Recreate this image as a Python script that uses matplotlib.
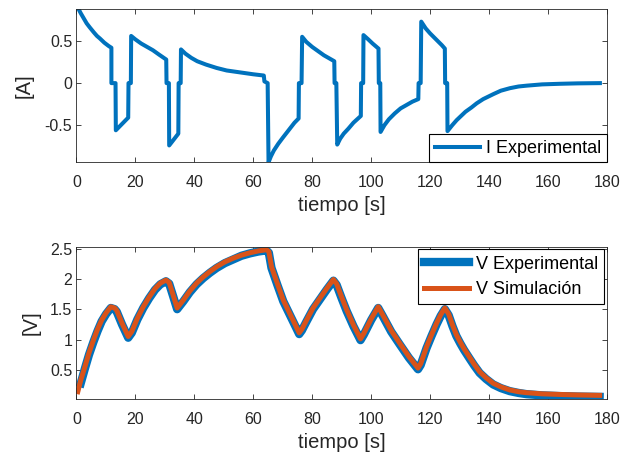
import matplotlib
matplotlib.use("Agg")
import matplotlib.pyplot as plt

plt.rcParams['font.family'] = ['Liberation Sans', 'DejaVu Sans']

# ---- data ----
t_I = [0.9, 1.5, 2.5, 3.5, 4.6, 6.0, 7.0, 8.0, 9.5, 11.0, 11.9,
       11.9, 13.3, 13.4, 17.6, 17.7, 18.5,
       18.6, 20.0, 22.0, 24.0, 26.0, 28.0, 30.5,
       30.6, 31.4, 31.5, 34.6, 34.7, 35.4,
       35.5, 37.0, 39.0, 41.0, 44.0, 47.6, 51.0, 55.0, 60.0, 63.6,
       63.8, 64.9,
       65.2, 66.0, 67.0, 68.5, 70.0, 72.0, 74.0, 75.4,
       75.5, 76.4,
       76.6, 78.0, 80.0, 82.0, 84.0, 86.0, 87.5,
       87.6, 88.2,
       88.5, 89.5, 90.7, 92.3, 94.0, 96.5,
       96.6, 97.3,
       97.4, 99.0, 100.5, 102.5,
       102.6, 103.1,
       103.2, 104.5, 106.0, 108.0, 110.0, 112.0, 114.0, 116.0,
       116.1, 116.8,
       117.0, 118.5, 120.0, 122.0, 124.0, 125.0,
       125.1, 125.8,
       125.9, 127.5, 129.0, 130.2, 132.0, 134.0, 135.8, 138.0, 141.5, 144.0,
       147.1, 150.0, 152.8, 158.0, 164.0, 170.0, 177.6]
I_exp = [0.87, 0.83, 0.77, 0.71, 0.66, 0.60, 0.56, 0.53, 0.48, 0.44, 0.42,
         0.0, 0.0, -0.56, -0.41, 0.0, 0.0,
         0.56, 0.52, 0.47, 0.43, 0.39, 0.34, 0.28,
         0.0, 0.0, -0.74, -0.60, 0.0, 0.0,
         0.40, 0.35, 0.30, 0.26, 0.22, 0.18, 0.15, 0.13, 0.105, 0.09,
         0.02, 0.0,
         -0.94, -0.87, -0.80, -0.72, -0.65, -0.56, -0.47, -0.42,
         0.0, 0.0,
         0.55, 0.49, 0.43, 0.38, 0.33, 0.29, 0.26,
         0.0, 0.0,
         -0.73, -0.66, -0.60, -0.54, -0.47, -0.39,
         0.0, 0.0,
         0.57, 0.52, 0.47, 0.41,
         0.0, 0.0,
         -0.58, -0.50, -0.43, -0.36, -0.30, -0.26, -0.22, -0.19,
         0.0, 0.0,
         0.73, 0.65, 0.59, 0.52, 0.45, 0.41,
         0.0, 0.0,
         -0.57, -0.50, -0.44, -0.40, -0.34, -0.29, -0.24, -0.19, -0.13, -0.09,
         -0.06, -0.04, -0.03, -0.015, -0.008, -0.003, 0.0]

t_V = [0.5, 1.5, 2.9, 4.3, 5.8, 7.2, 8.6, 10.1, 11.7, 13.0, 13.7, 15.5, 17.6,
       18.8, 20.7, 22.7, 24.7, 26.7, 28.5, 30.4, 31.5, 32.8, 34.2, 36.3, 38.5,
       40.8, 43.0, 45.3, 47.6, 50.4, 53.2, 56.0, 58.9, 61.7, 64.5, 65.3, 66.2,
       68.2, 70.2, 72.9, 75.6, 76.5, 78.1, 80.3, 82.6, 84.9, 87.2, 88.3, 90.0,
       91.7, 94.0, 96.4, 97.5, 100.0, 102.4, 103.9, 106.8, 109.7, 112.8, 115.9,
       116.8, 118.8, 120.5, 122.2, 123.6, 125.0, 126.3, 127.6, 128.9, 130.2,
       131.5, 133.5, 135.0, 136.8, 139.0, 141.4, 144.0, 147.0, 150.0, 152.7,
       158.0, 164.0, 170.0, 177.5]
V_sim = [0.14, 0.33, 0.55, 0.78, 0.99, 1.17, 1.32, 1.44, 1.54, 1.52, 1.48, 1.27, 1.05,
         1.13, 1.35, 1.54, 1.70, 1.84, 1.93, 1.98, 1.94, 1.74, 1.52, 1.65, 1.80,
         1.93, 2.03, 2.12, 2.20, 2.28, 2.34, 2.39, 2.43, 2.46, 2.48, 2.45, 2.20,
         1.92, 1.65, 1.38, 1.11, 1.17, 1.32, 1.52, 1.68, 1.84, 1.99, 1.92, 1.70,
         1.49, 1.24, 1.01, 1.10, 1.34, 1.54, 1.41, 1.15, 0.94, 0.72, 0.53,
         0.60, 0.88, 1.08, 1.27, 1.41, 1.52, 1.42, 1.24, 1.08, 0.96,
         0.85, 0.70, 0.59, 0.47, 0.37, 0.28, 0.22, 0.17, 0.14, 0.124,
         0.105, 0.095, 0.087, 0.08]
V_exp = [0.05, 0.28, 0.52, 0.75, 0.96, 1.14, 1.30, 1.42, 1.52, 1.50, 1.46, 1.25, 1.03,
         1.11, 1.33, 1.52, 1.68, 1.82, 1.91, 1.96, 1.92, 1.72, 1.50, 1.63, 1.78,
         1.91, 2.01, 2.10, 2.18, 2.26, 2.32, 2.38, 2.42, 2.45, 2.47, 2.43, 2.18,
         1.90, 1.63, 1.36, 1.09, 1.15, 1.30, 1.50, 1.66, 1.82, 1.97, 1.90, 1.68,
         1.47, 1.22, 0.99, 1.08, 1.32, 1.52, 1.39, 1.13, 0.92, 0.70, 0.51,
         0.58, 0.86, 1.06, 1.25, 1.39, 1.50, 1.40, 1.22, 1.06, 0.94,
         0.83, 0.68, 0.57, 0.45, 0.35, 0.26, 0.20, 0.15, 0.12, 0.10,
         0.08, 0.068, 0.06, 0.055]

blue = '#0072BD'
orange = '#D95319'
dark = '#262626'

fig = plt.figure(figsize=(6.23, 4.57), dpi=100)
ax1 = fig.add_axes([0.1225, 0.6449, 0.8518, 0.3354])
ax2 = fig.add_axes([0.1225, 0.1269, 0.8518, 0.3333])

ax1.plot(t_I, I_exp, color=blue, lw=2.9, label='I Experimental')
ax1.set_ylim(-0.94, 0.88)
ax1.set_yticks([-0.5, 0, 0.5])
ax1.set_yticklabels(['-0.5', '0', '0.5'])
ax1.set_ylabel('[A]', labelpad=8)

ax2.plot(t_V[1:], V_exp[1:], color=blue, lw=6, label='V Experimental')
ax2.plot(t_V, V_sim, color=orange, lw=3.6, label='V Simulación')
ax2.set_ylim(0.02, 2.53)
ax2.set_yticks([0.5, 1, 1.5, 2, 2.5])
ax2.set_yticklabels(['0.5', '1', '1.5', '2', '2.5'])
ax2.set_ylabel('[V]', labelpad=7)

for ax in (ax1, ax2):
    ax.set_xlim(0, 180)
    ax.set_xticks(range(0, 181, 20))
    ax.set_xlabel('tiempo [s]', fontsize=14.5, color=dark, labelpad=4)
    ax.yaxis.label.set_color(dark)
    ax.yaxis.label.set_fontsize(14.5)
    ax.tick_params(direction='in', length=3.5, width=0.6, top=True, right=True,
                   labelsize=11.5, colors=dark)
    ax.tick_params(axis='x', pad=9.5)
    ax.tick_params(axis='y', pad=3)
    for s in ax.spines.values():
        s.set_color(dark)
        s.set_linewidth(0.6)

leg1 = ax1.legend(loc='lower right', fontsize=13, borderaxespad=0, fancybox=False,
                  edgecolor='black', framealpha=1, handlelength=2.5,
                  handletextpad=0.35, borderpad=0.3)
leg1.get_frame().set_linewidth(0.8)
leg2 = ax2.legend(loc='upper right', fontsize=13, borderaxespad=0.15, fancybox=False,
                  edgecolor='black', framealpha=1, handlelength=2.5,
                  handletextpad=0.35, borderpad=0.35, labelspacing=0.45)
leg2.get_frame().set_linewidth(0.8)

fig.savefig('out.png', dpi=100)
